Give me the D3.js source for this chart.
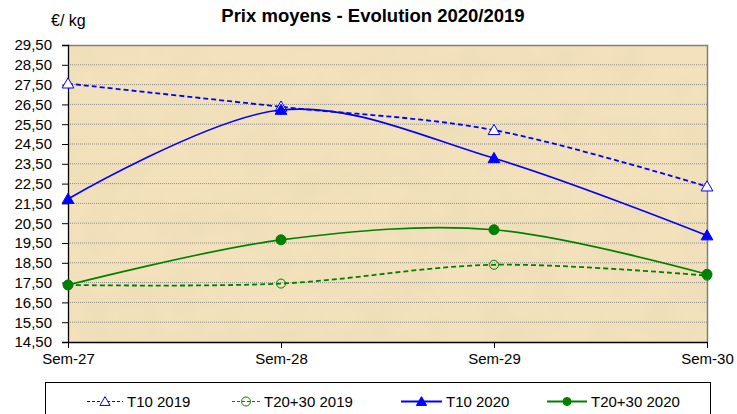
<!DOCTYPE html>
<html lang="fr">
<head>
<meta charset="utf-8">
<title>Prix moyens - Evolution 2020/2019</title>
<script src="https://cdn.jsdelivr.net/npm/d3@7"></script>
<style>
  body { margin: 0; background: #fff; }
  text { font-family: "Liberation Sans", Arial, sans-serif; fill: #000; }
</style>
</head>
<body>
<script>

// Data
var weeks = ["Sem-27", "Sem-28", "Sem-29", "Sem-30"];
var t10_2019   = [27.55, 26.38, 25.20, 22.35];
var t2030_2019 = [17.38, 17.45, 18.40, 17.85];
var t10_2020   = [21.72, 26.22, 23.78, 19.88];
var t2030_2020 = [17.38, 19.66, 20.17, 17.92];
var yTicks = [14.5, 15.5, 16.5, 17.5, 18.5, 19.5, 20.5, 21.5, 22.5, 23.5, 24.5, 25.5, 26.5, 27.5, 28.5, 29.5];

var series = [
  { name: "T10 2019",    values: t10_2019,   color: "#0000ff", dash: "5,3", marker: "triangle", filled: false },
  { name: "T20+30 2019", values: t2030_2019, color: "#008000", dash: "5,3", marker: "circle",   filled: false },
  { name: "T10 2020",    values: t10_2020,   color: "#0000ff", dash: null,  marker: "triangle", filled: true },
  { name: "T20+30 2020", values: t2030_2020, color: "#008000", dash: null,  marker: "circle",   filled: true }
];

var width = 737, height = 414;
var plotLeft = 68, plotRight = 707, plotTop = 45, plotBottom = 342;

var svg = d3.select("body").append("svg")
    .attr("width", width)
    .attr("height", height);

// parchment texture
var defs = svg.append("defs");
var filt = defs.append("filter").attr("id", "paper")
    .attr("x", 0).attr("y", 0).attr("width", "100%").attr("height", "100%");
filt.append("feTurbulence")
    .attr("type", "fractalNoise")
    .attr("baseFrequency", "0.025")
    .attr("numOctaves", 4)
    .attr("seed", 7)
    .attr("result", "noise");
filt.append("feColorMatrix")
    .attr("in", "noise")
    .attr("type", "matrix")
    .attr("values", "0 0 0 0 0.84  0 0 0 0 0.72  0 0 0 0 0.48  0 0 0 -1.4 0.85")
    .attr("result", "tint");
filt.append("feComposite").attr("in", "tint").attr("in2", "SourceGraphic").attr("operator", "in");

var x = d3.scalePoint().domain(weeks).range([plotLeft, plotRight]);
var y = d3.scaleLinear().domain([14.5, 29.5]).range([plotBottom, plotTop]);

svg.append("rect")
    .attr("x", plotLeft).attr("y", plotTop)
    .attr("width", plotRight - plotLeft).attr("height", plotBottom - plotTop)
    .attr("fill", "#f2e1ba");
svg.append("rect")
    .attr("x", plotLeft).attr("y", plotTop)
    .attr("width", plotRight - plotLeft).attr("height", plotBottom - plotTop)
    .attr("fill", "#f2e1ba")
    .attr("filter", "url(#paper)");

// grid
svg.append("g").selectAll("line")
    .data(yTicks.slice(1, -1))
    .join("line")
    .attr("x1", plotLeft).attr("x2", plotRight)
    .attr("y1", function(d){ return y(d); })
    .attr("y2", function(d){ return y(d); })
    .attr("stroke", "#8c8c8c")
    .attr("stroke-width", 1)
    .attr("stroke-dasharray", "1,1");

// frame top / right
svg.append("path")
    .attr("d", "M" + plotLeft + "," + (plotTop + 0.5) + "H" + (plotRight + 0.5) + "V" + plotBottom)
    .attr("fill", "none")
    .attr("stroke", "#808080")
    .attr("stroke-width", 1.5);

// axes
var yAxis = d3.axisLeft(y)
    .tickValues(yTicks)
    .tickSize(6)
    .tickPadding(10)
    .tickFormat(function(d){ return d.toFixed(2).replace(".", ","); });

var gy = svg.append("g").attr("transform", "translate(" + plotLeft + ",0)").call(yAxis);
gy.select(".domain").attr("stroke", "#000").attr("stroke-width", 1.3);
gy.selectAll(".tick line").attr("stroke", "#000");
gy.selectAll("text").style("font-size", "15px").attr("fill", "#000");

var xAxis = d3.axisBottom(x).tickSize(6).tickPadding(5).tickSizeOuter(0);
var gx = svg.append("g").attr("transform", "translate(0," + plotBottom + ")").call(xAxis);
gx.select(".domain").attr("stroke", "#000").attr("stroke-width", 1.3);
gx.selectAll(".tick line").attr("stroke", "#000");
gx.selectAll("text").style("font-size", "15px").attr("fill", "#000");

// lines
var line = d3.line()
    .x(function(d, i){ return x(weeks[i]); })
    .y(function(d){ return y(d); })
    .curve(d3.curveCardinal.tension(0));

function drawMarker(g, s, cx, cy, small) {
  if (s.marker === "triangle") {
    g.append("path")
      .attr("d", d3.symbol().type(d3.symbolTriangle).size(small ? 45 : 60)())
      .attr("transform", "translate(" + cx + "," + (cy + 1) + ")")
      .attr("fill", s.filled ? s.color : "#fff")
      .attr("stroke", s.color)
      .attr("stroke-width", 1);
  } else {
    g.append("circle")
      .attr("cx", cx).attr("cy", cy)
      .attr("r", s.filled ? (small ? 4 : 5) : 4.5)
      .attr("fill", s.filled ? s.color : "none")
      .attr("stroke", s.color)
      .attr("stroke-width", 1);
  }
}

series.forEach(function(s){
  var g = svg.append("g");
  g.append("path")
    .attr("d", line(s.values))
    .attr("fill", "none")
    .attr("stroke", s.color)
    .attr("stroke-width", s.dash ? 1.8 : 1.6)
    .attr("stroke-dasharray", s.dash);
  s.values.forEach(function(v, i){
    drawMarker(g, s, x(weeks[i]), y(v), false);
  });
});

// titles
svg.append("text")
    .attr("x", 373).attr("y", 22)
    .attr("text-anchor", "middle")
    .style("font-size", "18.5px")
    .style("font-weight", "bold")
    .text("Prix moyens - Evolution 2020/2019");

svg.append("text")
    .attr("x", 51).attr("y", 26)
    .style("font-size", "16px")
    .text("€/ kg");

// legend
svg.append("rect")
    .attr("x", 45.5).attr("y", 382.5)
    .attr("width", 665).attr("height", 40)
    .attr("fill", "#fff")
    .attr("stroke", "#000")
    .attr("stroke-width", 1);

var legX = [87, 232, 401, 547];
var legW = [36, 28, 41, 40];
series.forEach(function(s, i){
  var g = svg.append("g");
  var ly = 401.5;
  g.append("line")
    .attr("x1", legX[i]).attr("x2", legX[i] + legW[i])
    .attr("y1", ly).attr("y2", ly)
    .attr("stroke", s.color)
    .attr("stroke-width", s.dash ? 1.2 : 1.8)
    .attr("stroke-dasharray", s.dash ? "3,2" : null);
  drawMarker(g, s, legX[i] + legW[i] / 2, ly, true);
  g.append("text")
    .attr("x", legX[i] + legW[i] + 4).attr("y", ly + 5.5)
    .style("font-size", "15px")
    .text(s.name);
});

</script>
</body>
</html>
